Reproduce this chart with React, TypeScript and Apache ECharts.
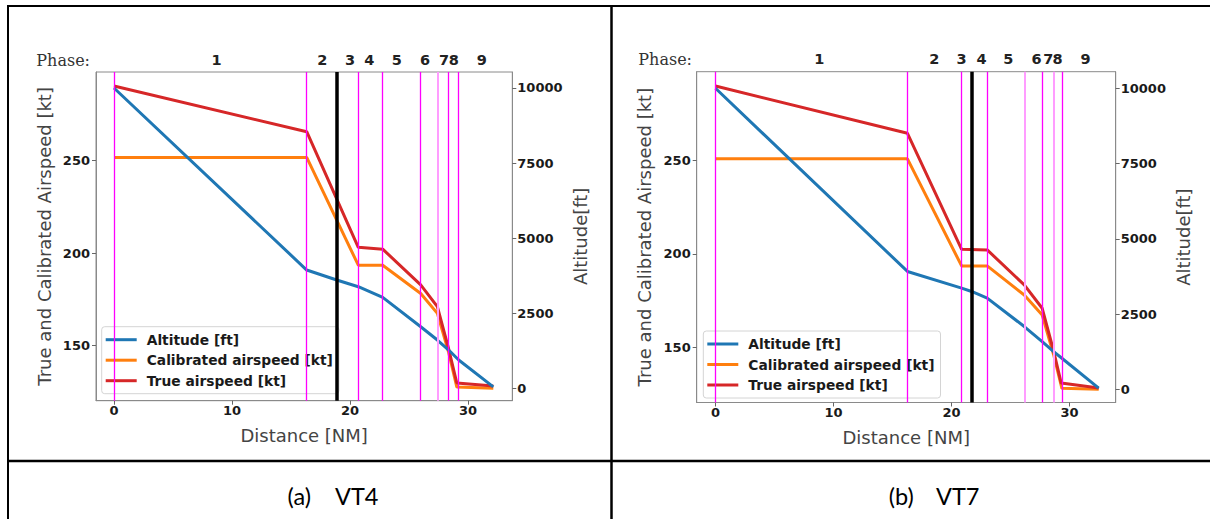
import React, { useEffect, useRef } from "react";
import * as echarts from "echarts";

// ---------- data ----------
const SERIES_NAMES = ["Altitude [ft]", "Calibrated airspeed [kt]", "True airspeed [kt]"];
const PHASE_NAMES = ["1", "2", "3", "4", "5", "6", "7", "8", "9"];
const X_TICKS = [0, 10, 20, 30];
const KT_TICKS = [150, 200, 250];
const FT_TICKS = [0, 2500, 5000, 7500, 10000];
const CAPTIONS = [["(a)", "VT4"], ["(b)", "VT7"]];

// VT4 [distance NM, value]
const VT4_ALT = [[0, 10000], [16.33, 3946], [18.87, 3614], [20.7, 3391], [22.77, 3038], [25.99, 2061], [27.4, 1619], [28.36, 1287], [29.21, 954], [32.14, 60]];
const VT4_CAS = [[0, 251.8], [16.33, 251.8], [20.7, 193.4], [22.77, 193.4], [25.99, 178.1], [27.4, 167.3], [28.36, 146], [29.05, 127.4], [32.14, 126.8]];
const VT4_TAS = [[0, 290.5], [16.33, 265.7], [20.7, 203.1], [22.77, 202.1], [25.99, 182.7], [27.4, 171.0], [28.36, 148], [29.05, 129.6], [32.14, 128.0]];
const VT4_BOUNDS = [0, 16.33, 20.7, 22.77, 25.99, 27.4, 28.36, 29.21];
const VT4_FAINT = [27.4];
const VT4_NOW = 18.87;
const VT4_PHASE_POS = [8.7, 17.65, 20.0, 21.64, 23.96, 26.36, 27.97, 28.8, 31.16];

// VT7
const VT7_ALT = [[0, 10000], [16.27, 3915], [20.86, 3362], [21.71, 3249], [23.03, 3029], [26.17, 2084], [27.69, 1585], [28.66, 1252], [29.36, 1032], [32.48, 40]];
const VT7_CAS = [[0, 251], [16.27, 251], [20.86, 193.6], [23.03, 193.6], [26.17, 178], [27.69, 167.3], [28.66, 146], [29.36, 128], [32.48, 127.5]];
const VT7_TAS = [[0, 290], [16.27, 264.7], [20.86, 202.5], [23.03, 202.2], [26.17, 183.4], [27.69, 170.9], [28.66, 148], [29.3, 130.8], [32.48, 128.2]];
const VT7_BOUNDS = [0, 16.27, 20.86, 23.03, 26.17, 27.69, 28.66, 29.36];
const VT7_FAINT = [26.17, 28.66];
const VT7_NOW = 21.71;
const VT7_PHASE_POS = [8.8, 18.54, 20.86, 22.56, 24.81, 27.22, 28.2, 29.0, 31.37];

// ---------- layout ----------
const PANELS = [
  {
    grid: { left: 96, top: 72, width: 416.3, height: 328.7 },
    x: [-1.525, 33.75], kt: [120.0, 298.05], ft: [-399, 10532],
    alt: VT4_ALT, cas: VT4_CAS, tas: VT4_TAS, bounds: VT4_BOUNDS, faint: VT4_FAINT, now: VT4_NOW, phasePos: VT4_PHASE_POS,
    legend: { left: 101.7, top: 326.7 },
    phaseLabel: { x: 90, y: 60 },
    caption: { a: 287.6, b: 335, y: 495.5 },
  },
  {
    grid: { left: 696.7, top: 71.7, width: 419, height: 330.8 },
    x: [-1.593, 33.92], kt: [120.4, 297.7], ft: [-439, 10551],
    alt: VT7_ALT, cas: VT7_CAS, tas: VT7_TAS, bounds: VT7_BOUNDS, faint: VT7_FAINT, now: VT7_NOW, phasePos: VT7_PHASE_POS,
    legend: { left: 703.3, top: 331 },
    phaseLabel: { x: 692, y: 59 },
    caption: { a: 888.8, b: 936, y: 495.5 },
  },
];

const BLUE = "#1f77b4";
const ORANGE = "#ff7f0e";
const RED = "#d62728";
const SPINE = "#8a8a8a";
const TICK_FONT = { fontFamily: "DejaVu Sans", fontWeight: "bold" as const, fontSize: 13, color: "#1a1a1a" };
const NAME_FONT = { fontFamily: "DejaVu Sans", fontSize: 18, color: "#444" };
const plain = (v: number) => String(v);

function buildOption() {
  const grid: any[] = [];
  const xAxis: any[] = [];
  const yAxis: any[] = [];
  const series: any[] = [];
  const legend: any[] = [];
  const graphic: any[] = [];

  PANELS.forEach((p, i) => {
    grid.push({ ...p.grid, show: true, borderColor: SPINE, borderWidth: 1, backgroundColor: "transparent", containLabel: false });
    xAxis.push({
      type: "value", gridIndex: i, position: "bottom", min: p.x[0], max: p.x[1],
      name: "Distance [NM]", nameLocation: "middle", nameGap: 26, nameTextStyle: NAME_FONT,
      axisLine: { show: true, onZero: false, lineStyle: { color: SPINE } },
      axisTick: { show: true, length: 4, lineStyle: { color: "#666" }, customValues: X_TICKS },
      axisLabel: { ...TICK_FONT, margin: 3, customValues: X_TICKS, formatter: plain },
      splitLine: { show: false },
    });
    const pos = p.phasePos;
    xAxis.push({
      type: "value", gridIndex: i, position: "top", min: p.x[0], max: p.x[1],
      axisLine: { show: false, onZero: false },
      axisTick: { show: false },
      axisLabel: {
        ...TICK_FONT, fontSize: 14.5, color: "#222", margin: 5, customValues: pos,
        formatter: (v: number) => {
          let best = 0;
          pos.forEach((q, k) => { if (Math.abs(q - v) < Math.abs(pos[best] - v)) best = k; });
          return PHASE_NAMES[best];
        },
      },
      splitLine: { show: false },
    });
    yAxis.push({
      type: "value", gridIndex: i, position: "left", min: p.kt[0], max: p.kt[1],
      name: "True and Calibrated Airspeed [kt]", nameLocation: "middle", nameGap: 43, nameTextStyle: NAME_FONT,
      axisLine: { show: true, onZero: false, lineStyle: { color: SPINE } },
      axisTick: { show: true, length: 4, lineStyle: { color: "#666" }, customValues: KT_TICKS },
      axisLabel: { ...TICK_FONT, margin: 6, customValues: KT_TICKS, formatter: plain },
      splitLine: { show: false },
    });
    yAxis.push({
      type: "value", gridIndex: i, position: "right", min: p.ft[0], max: p.ft[1],
      name: "Altitude[ft]", nameLocation: "middle", nameGap: 59, nameTextStyle: NAME_FONT,
      axisLine: { show: true, onZero: false, lineStyle: { color: SPINE } },
      axisTick: { show: true, length: 4, lineStyle: { color: "#666" }, customValues: FT_TICKS },
      axisLabel: { ...TICK_FONT, margin: 5, customValues: FT_TICKS, formatter: plain },
      splitLine: { show: false },
    });

    const line = (name: string, data: number[][], color: string, yIdx: number, z: number) => ({
      type: "line", name, data, xAxisIndex: i * 2, yAxisIndex: yIdx, z,
      symbol: "none", showSymbol: false, color,
      lineStyle: { color, width: 3 }, emphasis: { disabled: true }, silent: true,
    });
    series.push(line(SERIES_NAMES[1], p.cas, ORANGE, i * 2, 2));
    series.push(line(SERIES_NAMES[2], p.tas, RED, i * 2, 3));
    const alt: any = line(SERIES_NAMES[0], p.alt, BLUE, i * 2 + 1, 4);
    alt.markLine = {
      silent: true, symbol: ["none", "none"], label: { show: false }, animation: false,
      lineStyle: { type: "solid" },
      emphasis: { disabled: true },
      data: [
        ...p.bounds.map((v) => ({
          xAxis: v,
          lineStyle: p.faint.includes(v)
            ? { color: "#ff9dff", width: 2, type: "solid" }
            : { color: "#ff00ff", width: 1.3, type: "solid" },
        })),
        { xAxis: p.now, lineStyle: { color: "#000", width: 3.5, type: "solid" } },
      ],
    };
    series.push(alt);

    legend.push({
      left: p.legend.left, top: p.legend.top, orient: "vertical", data: SERIES_NAMES,
      icon: "rect", itemWidth: 31, itemHeight: 3, itemGap: 6.5,
      padding: [6, 6, 6, 4], backgroundColor: "rgba(255,255,255,0.8)",
      borderColor: "#d4d4d4", borderWidth: 1, borderRadius: 3,
      textStyle: { fontFamily: "DejaVu Sans", fontWeight: "bold", fontSize: 13.8, color: "#1a1a1a", lineHeight: 14, padding: [0, 0, 0, 5] },
      selectedMode: false, z: 1,
    });

    graphic.push({
      type: "text", x: p.phaseLabel.x, y: p.phaseLabel.y,
      style: { text: "Phase:", fontFamily: "DejaVu Serif", fontSize: 16, fill: "#333", align: "right", verticalAlign: "middle" },
    });
    graphic.push({
      type: "text", x: p.caption.a, y: p.caption.y,
      style: { text: CAPTIONS[i][0], fontFamily: "Lato", fontSize: 23.5, fill: "#000", align: "left", verticalAlign: "middle" },
    });
    graphic.push({
      type: "text", x: p.caption.b, y: p.caption.y,
      style: { text: CAPTIONS[i][1], fontFamily: "Lato", fontSize: 23.5, fill: "#000", align: "left", verticalAlign: "middle" },
    });
  });

  const border = { stroke: "#000", lineWidth: 2 };
  graphic.push({ type: "line", shape: { x1: 7, y1: 6, x2: 1210, y2: 6 }, style: border });
  graphic.push({ type: "line", shape: { x1: 7, y1: 461, x2: 1210, y2: 461 }, style: { stroke: "#000", lineWidth: 2.5 } });
  graphic.push({ type: "line", shape: { x1: 8, y1: 5, x2: 8, y2: 519 }, style: border });
  graphic.push({ type: "line", shape: { x1: 611.5, y1: 5, x2: 611.5, y2: 519 }, style: { stroke: "#000", lineWidth: 2.5 } });

  return {
    animation: false,
    backgroundColor: "#fff",
    grid, xAxis, yAxis, series, legend, graphic,
  };
}

export default function App() {
  const ref = useRef<HTMLDivElement>(null);
  useEffect(() => {
    if (!ref.current) return;
    const chart = echarts.init(ref.current, undefined, { renderer: "svg" });
    chart.setOption(buildOption() as any);
    return () => chart.dispose();
  }, []);
  return <div ref={ref} style={{ position: "absolute", left: 0, top: 0, width: 1210, height: 519 }} />;
}
